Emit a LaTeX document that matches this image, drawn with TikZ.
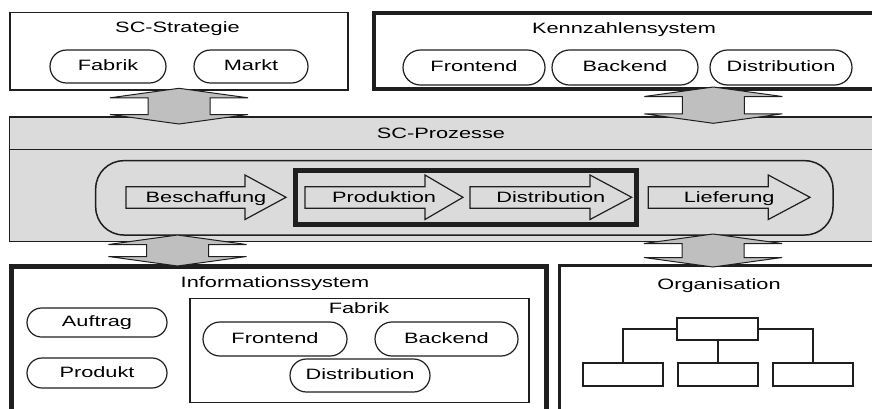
\documentclass[tikz,border=0pt]{standalone}
\usepackage{fontspec}
\setmainfont{Liberation Sans}[FakeStretch=1.45]
\usetikzlibrary{shapes.misc,positioning}

\definecolor{linecol}{rgb}{0.12,0.12,0.12}
\definecolor{bandcol}{rgb}{0.86,0.86,0.86}
\definecolor{flowcol}{rgb}{0.75,0.75,0.75}

% process step: name, left x, head x, tip x, text
\newcommand{\procarrow}[5]{%
  \draw[proc] (#2,186.7) -- (#3,186.7) -- (#3,175) -- (#4,197.3) -- (#3,219.5) -- (#3,208.3) -- (#2,208.3) -- cycle;
  \node[lbl] (#1) at ({(#2+#4)/2},198.8) {#5};}
% grey double block arrow: tip x, top tip y, length
\newcommand{\flowarrow}[3]{%
  \draw[flow] (#1,#2) -- ++(69,9.5) -- ++(-38,0) -- ++(0,#3-19) -- ++(38,0) -- ++(-69,9.5)
    -- ++(-69,-9.5) -- ++(38,0) -- ++(0,-#3+19) -- ++(-38,0) -- cycle;}

\begin{document}
\begin{tikzpicture}[x=1pt,y=-1pt,line join=miter,
  font=\fontsize{15}{18}\selectfont,
  box/.style={draw=linecol,line width=1.2pt,fill=white,inner sep=0pt,outer sep=0pt,anchor=north west},
  pill/.style={rounded rectangle,draw=linecol,line width=1.2pt,fill=white,inner sep=0pt,text height=11pt,text depth=3pt},
  lbl/.style={inner sep=0pt,text height=11pt,text depth=3pt},
  proc/.style={draw=linecol,line width=1.2pt,fill=bandcol},
  flow/.style={draw=linecol,line width=1pt,fill=flowcol},
  orgbox/.style={draw=linecol,line width=2pt,fill=white,minimum width=80pt,minimum height=23pt,inner sep=0pt},
  orgline/.style={draw=linecol,line width=2pt}]
\useasboundingbox (0,0) rectangle (872,408);
\clip (0,0) rectangle (872,408);
%%
  % Node: strat
  \node[box,minimum width=338,minimum height=77.3] (strat) at (10,12.7) {};
  \node[lbl] (stratT) at (177.5,28.4) {SC-Strategie};
  \node[pill,minimum width=116,minimum height=33] (sFab) at (108,66.5) {Fabrik};
  \node[pill,minimum width=114,minimum height=33] (sMkt) at (251,66.5) {Markt};
  % Node: kz
  \node[box,line width=4pt,minimum width=505,minimum height=75.7] (kz) at (373.7,13.3) {};
  \node[lbl] (kzT) at (624,29.4) {Kennzahlensystem};
  \node[pill,minimum width=142,minimum height=35] (kFro) at (474,67.5) {Frontend};
  \node[pill,minimum width=146,minimum height=35] (kBac) at (625,67.5) {Backend};
  \node[pill,minimum width=142,minimum height=35] (kDis) at (781,67.5) {Distribution};
  % Node: band
  \node[box,fill=bandcol,minimum width=872,minimum height=124.7] (band) at (9.5,117) {};
  \draw[draw=linecol,line width=1.2pt] (9.5,149.3) -- (band.east |- 0,149.3);
  \node[lbl] (bandT) at (441,134.4) {SC-Prozesse};
  \node[box,fill=bandcol,line width=1.5pt,rounded corners=28pt,minimum width=737.3,minimum height=74.3] (chain) at (95.7,160.7) {};
  \node[box,fill=bandcol,line width=5pt,minimum width=340.8,minimum height=53.2] (grp) at (295.5,170.8) {};
  \procarrow{besch}{126}{245}{286}{Beschaffung}
  \procarrow{prod}{305}{425}{463}{Produktion}
  \procarrow{dist}{470}{590}{631.7}{Distribution}
  \procarrow{lief}{648.3}{768.3}{810}{Lieferung}
  % Node: info
  \node[box,line width=5pt,minimum width=535,minimum height=150] (info) at (11,266) {};
  \node[lbl] (infoT) at (275,283.4) {Informationssystem};
  \node[pill,minimum width=140,minimum height=29] (iAuf) at (97,322.5) {Auftrag};
  \node[pill,minimum width=140,minimum height=30] (iPro) at (97,373) {Produkt};
  \node[box,line width=1.5pt,minimum width=339,minimum height=104] (fab) at (190,298.3) {};
  \node[lbl] (fabT) at (359,309) {Fabrik};
  \node[pill,minimum width=144,minimum height=34] (fFro) at (275,339) {Frontend};
  \node[pill,minimum width=143,minimum height=34] (fBac) at (446.5,339) {Backend};
  \node[pill,minimum width=140,minimum height=33] (fDis) at (360,375.5) {Distribution};
  % Node: org
  \node[box,line width=2.5pt,minimum width=330,minimum height=150] (org) at (559.5,265.5) {};
  \node[lbl] (orgT) at (719,285.4) {Organisation};
  \node[orgbox,minimum width=81,minimum height=22] (oTop) at (717.5,329) {};
  \node[orgbox] (oL) at (623,374.5) {};
  \node[orgbox] (oM) at (717.5,374.5) {};
  \node[orgbox] (oR) at (813,374.5) {};
  % Edge: oTop -> oL, oM, oR
  \draw[orgline] (oTop.west) -| (oL.north);
  \draw[orgline] (oTop.south) -- (oM.north);
  \draw[orgline] (oTop.east) -| (oR.north);
  % Edge: strat <-> band, kz <-> band
  \flowarrow{179}{88.3}{35.7}
  \flowarrow{713.3}{87}{36.3}
  % Edge: band <-> info, band <-> org
  \flowarrow{177.5}{235}{31}
  \flowarrow{713}{234}{33}
%
\end{tikzpicture}
\end{document}
